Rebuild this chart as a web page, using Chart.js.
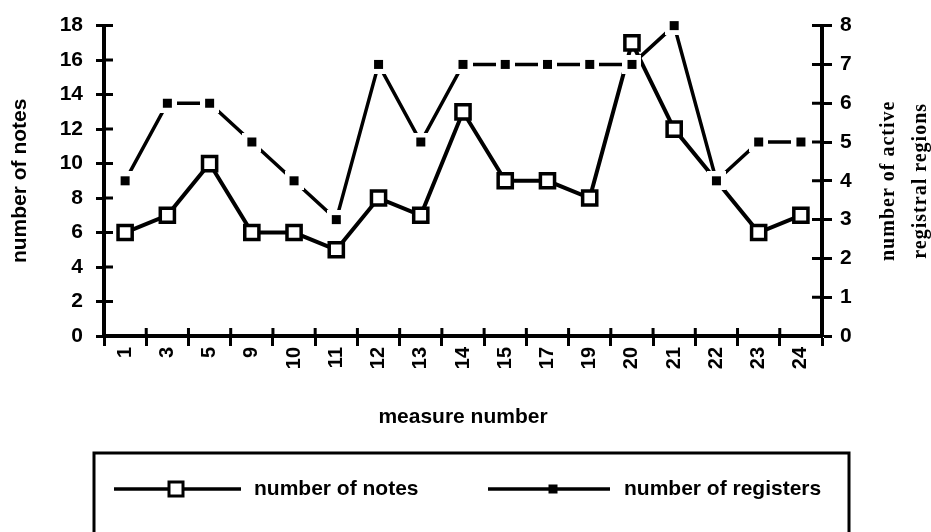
<!DOCTYPE html>
<html>
<head>
<meta charset="utf-8">
<script src="https://cdn.jsdelivr.net/npm/chart.js@4"></script>
<style>
  body { margin: 0; background: #fff; }
  canvas { display: block; }
</style>
</head>
<body>
<canvas id="chart" width="931" height="532"></canvas>
<script>
// data
const measures = ['1', '3', '5', '9', '10', '11', '12', '13', '14', '15', '17', '19', '20', '21', '22', '23', '24'];
const noteCounts = [6, 7, 10, 6, 6, 5, 8, 7, 13, 9, 9, 8, 17, 12, 9, 6, 7];
const registerCounts = [4, 6, 6, 5, 4, 3, 7, 5, 7, 7, 7, 7, 7, 8, 4, 5, 5];
const rightTitle = ['number of active', 'registral regions'];

const sans = '"Liberation Sans", Arial, sans-serif';
const serif = '"Liberation Serif", "Times New Roman", serif';

// filled square with a white margin, so the lines stop short of it
const regMark = document.createElement('canvas');
regMark.width = 19;
regMark.height = 19;
(function() {
    const c = regMark.getContext('2d');
    c.fillStyle = '#fff';
    c.fillRect(0, 0, 19, 19);
    c.fillStyle = '#000';
    c.fillRect(5, 5, 9, 9);
})();

// ticks in the original cross the axis lines; draw the inner half
const innerTicks = {
    id: 'innerTicks',
    afterDraw(chart) {
        const ctx = chart.ctx;
        const x = chart.scales.x, y = chart.scales.y, y2 = chart.scales.y2;
        ctx.save();
        ctx.strokeStyle = '#000';
        ctx.lineWidth = 3;
        ctx.beginPath();
        for (let i = 0; i <= measures.length; i++) {
            const px = x.getPixelForValue(i - 0.5);
            ctx.moveTo(px, x.top);
            ctx.lineTo(px, x.top - 8);
        }
        y.ticks.forEach((t, i) => {
            const py = y.getPixelForTick(i);
            ctx.moveTo(y.right, py);
            ctx.lineTo(y.right + 9, py);
        });
        y2.ticks.forEach((t, i) => {
            const py = y2.getPixelForTick(i);
            ctx.moveTo(y2.left, py);
            ctx.lineTo(y2.left - 10, py);
        });
        ctx.stroke();

        // right axis title reads bottom to top, two lines
        ctx.fillStyle = '#000';
        ctx.font = 'bold 20px ' + serif;
        ctx.letterSpacing = '1px';
        ctx.textAlign = 'center';
        ctx.textBaseline = 'middle';
        const cy = (chart.chartArea.top + chart.chartArea.bottom) / 2;
        [889, 921].forEach((cx, i) => {
            ctx.save();
            ctx.translate(cx, cy);
            ctx.rotate(-Math.PI / 2);
            ctx.fillText(rightTitle[i], 0, 0);
            ctx.restore();
        });
        ctx.restore();
    }
};

// boxed legend at the bottom, line sample with marker
const boxLegend = {
    id: 'boxLegend',
    afterDraw(chart) {
        const ctx = chart.ctx;
        const ds = chart.data.datasets;
        ctx.save();
        ctx.strokeStyle = '#000';
        ctx.lineWidth = 3;
        ctx.beginPath();
        ctx.moveTo(94, 540);
        ctx.lineTo(94, 453);
        ctx.lineTo(849, 453);
        ctx.lineTo(849, 540);
        ctx.stroke();

        const rowY = 489;
        const items = [
            { x0: 114, x1: 241, mx: 176, tx: 254, ds: ds[1] },
            { x0: 488, x1: 610, mx: 553, tx: 624, ds: ds[0] }
        ];
        ctx.font = 'bold 21px ' + sans;
        ctx.textBaseline = 'middle';
        items.forEach(it => {
            ctx.lineWidth = 3.5;
            ctx.beginPath();
            ctx.moveTo(it.x0, rowY);
            ctx.lineTo(it.x1, rowY);
            ctx.stroke();
            if (it.ds.pointStyle === regMark) {
                ctx.fillStyle = '#000';
                ctx.fillRect(it.mx - 4.5, rowY - 4.5, 9, 9);
            } else {
                ctx.fillStyle = '#fff';
                ctx.fillRect(it.mx - 7, rowY - 7, 14, 14);
                ctx.lineWidth = 3;
                ctx.strokeRect(it.mx - 7, rowY - 7, 14, 14);
            }
            ctx.fillStyle = '#000';
            ctx.fillText(it.ds.label, it.tx, rowY);
        });
        ctx.restore();
    }
};

new Chart(document.getElementById('chart'), {
    type: 'line',
    data: {
        labels: measures,
        datasets: [{
            label: 'number of registers',
            data: registerCounts,
            yAxisID: 'y2',
            order: 0,
            clip: false,
            borderColor: '#000',
            borderWidth: 3.5,
            pointStyle: regMark,
            pointRadius: 8,
            tension: 0
        }, {
            label: 'number of notes',
            data: noteCounts,
            yAxisID: 'y',
            order: 1,
            clip: false,
            borderColor: '#000',
            borderWidth: 4,
            pointStyle: 'rect',
            pointRadius: 10,
            pointBorderWidth: 3.5,
            pointBackgroundColor: '#fff',
            pointBorderColor: '#000',
            tension: 0
        }]
    },
    options: {
        responsive: false,
        animation: false,
        layout: { padding: { top: 25, bottom: 96, left: 0, right: 0 } },
        plugins: {
            legend: { display: false },
            tooltip: { enabled: false }
        },
        scales: {
            x: {
                offset: true,
                afterFit: s => { s.height = 100; },
                grid: { offset: true, drawOnChartArea: false, tickLength: 10, tickWidth: 3, color: '#000' },
                border: { color: '#000', width: 4 },
                ticks: {
                    color: '#000', font: { family: sans, size: 20, weight: 'bold' },
                    minRotation: 90, maxRotation: 90, padding: 1, autoSkip: false
                },
                title: {
                    display: true, text: 'measure number', color: '#000',
                    font: { family: sans, size: 21, weight: 'bold' },
                    padding: { top: 0, bottom: 6 }
                }
            },
            y: {
                position: 'left',
                min: 0, max: 18,
                afterFit: s => { s.width = 104; },
                grid: { drawOnChartArea: false, tickLength: 8, tickWidth: 3, color: '#000' },
                border: { color: '#000', width: 4 },
                ticks: { stepSize: 2, color: '#000', padding: 13, font: { family: sans, size: 21, weight: 'bold' } },
                title: {
                    display: true, text: 'number of notes', color: '#000',
                    font: { family: sans, size: 21, weight: 'bold' },
                    padding: { top: 8, bottom: 0 }
                }
            },
            y2: {
                position: 'right',
                min: 0, max: 8,
                afterFit: s => { s.width = 109; },
                grid: { drawOnChartArea: false, tickLength: 10, tickWidth: 3, color: '#000' },
                border: { color: '#000', width: 4 },
                ticks: { stepSize: 1, color: '#000', padding: 8, font: { family: sans, size: 21, weight: 'bold' } }
            }
        }
    },
    plugins: [innerTicks, boxLegend]
});
</script>
</body>
</html>
